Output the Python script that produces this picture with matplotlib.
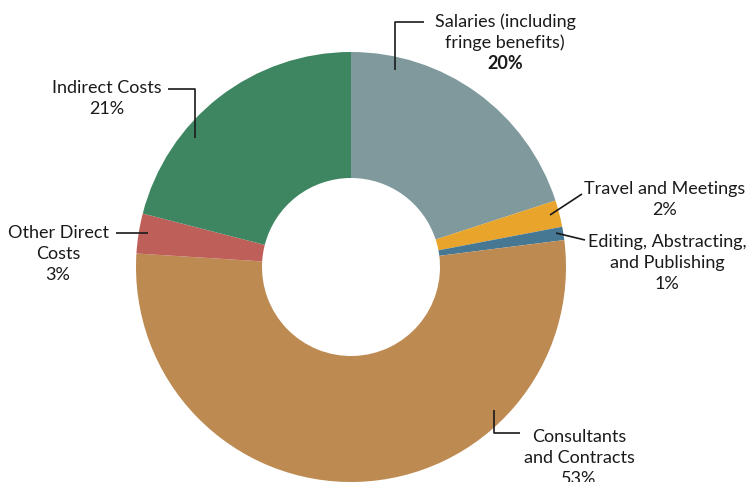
import matplotlib
matplotlib.use('Agg')
import matplotlib.pyplot as plt

plt.rcParams['font.family'] = ['Lato', 'DejaVu Sans']

categories = [
    'Salaries (including\nfringe benefits)',
    'Travel and Meetings',
    'Editing, Abstracting,\nand Publishing',
    'Consultants\nand Contracts',
    'Other Direct\nCosts',
    'Indirect Costs',
]
shares = [20, 2, 1, 53, 3, 21]
pct_labels = ['20%', '2%', '1%', '53%', '3%', '21%']

colors = ['#7f999d', '#e8a42b', '#477893', '#bd8a52', '#bf5f59', '#3e8661']

W, H = 749, 482
CX, CY, R = 351, 267, 215


def px(x, y):
    # pixel position -> data units (pie radius = 1)
    return ((x - CX) / R, (CY - y) / R)


fig = plt.figure(figsize=(W / 100, H / 100), dpi=100)
ax = fig.add_axes([0, 0, 1, 1])

ax.pie(shares, colors=colors, startangle=90, counterclock=False, radius=1,
       wedgeprops=dict(width=1 - 89 / R, linewidth=0))

ax.set_aspect('auto')
ax.set_xlim(px(0, 0)[0], px(W, 0)[0])
ax.set_ylim(px(0, H)[1], px(0, 0)[1])
ax.axis('off')

# first-line text centre (pixels) and leader lines
label_pos = [(505, 22), (665, 189), (667, 242), (579, 437), (58, 233), (107, 88)]
leaders = [
    [(395, 70), (395, 22), (424, 22)],
    [(550, 215), (582, 194)],
    [(556, 233), (585, 240)],
    [(494, 410), (494, 433), (520, 433)],
    [(148, 233), (116, 233)],
    [(195, 138), (195, 89), (168, 89)],
]
LINE = 21

for i, (cat, pct) in enumerate(zip(categories, pct_labels)):
    lx, ly = label_pos[i]
    lines = cat.split('\n') + [pct]
    for k, s in enumerate(lines):
        bold = (i == 0 and k == len(lines) - 1)
        x, y = px(lx, ly + LINE * k)
        ax.text(x, y, s, ha='center', va='center', fontsize=13,
                color='#1a1a1a', fontweight='bold' if bold else 'normal')
    pts = [px(*p) for p in leaders[i]]
    ax.plot([p[0] for p in pts], [p[1] for p in pts], color='#1a1a1a', lw=1.2,
            solid_capstyle='butt')

fig.savefig('out.png', dpi=100, facecolor='white')
